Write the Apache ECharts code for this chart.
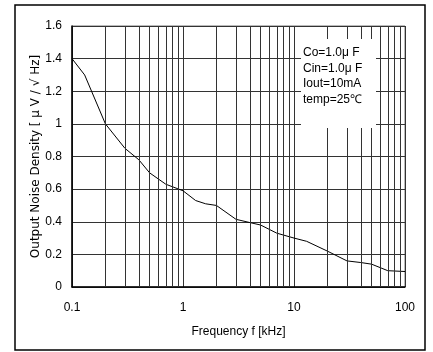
<!DOCTYPE html>
<html>
<head>
<meta charset="utf-8">
<script src="https://cdn.jsdelivr.net/npm/echarts@6/dist/echarts.min.js"></script>
<style>
  html, body { margin: 0; padding: 0; background: #fff; }
  #chart_box { width: 433px; height: 352px; }
</style>
</head>
<body>
<div id="chart_box"></div>
<script>
// 周波数 [kHz] と雑音密度 [μV/√Hz]
var freq = [0.1, 0.13, 0.2, 0.3, 0.4, 0.5, 0.7, 1, 1.3, 1.6, 2, 3, 4, 5, 7, 10, 13, 20, 30, 40, 50, 70, 100];
var noise = [1.40, 1.30, 1.00, 0.85, 0.78, 0.70, 0.63, 0.59, 0.53, 0.51, 0.50, 0.415, 0.395, 0.38, 0.33, 0.30, 0.28, 0.22, 0.16, 0.15, 0.14, 0.10, 0.095];
var minorFreq = [0.2, 0.3, 0.4, 0.5, 0.6, 0.7, 0.8, 0.9, 2, 3, 4, 5, 6, 7, 8, 9, 20, 30, 40, 50, 60, 70, 80, 90];
var noteLines = ["Co=1.0μ F", "Cin=1.0μ F", "Iout=10mA", "temp=25℃"];

var font = "'Liberation Sans', sans-serif";
var nameFont = "'DejaVu Sans', sans-serif";
var myChart = echarts.init(document.getElementById("chart_box"));

var option = {
  animation: false,
  textStyle: { fontFamily: font },
  grid: {
    left: 72, right: 28, top: 26, bottom: 65,
    show: true, borderColor: "#777", borderWidth: 1
  },
  xAxis: {
    type: "log",
    logBase: 10,
    min: 0.1,
    max: 100,
    name: "Frequency f [kHz]",
    nameLocation: "middle",
    nameGap: 39,
    nameTextStyle: { color: "#000", fontSize: 12, fontFamily: font },
    axisLine: { lineStyle: { color: "#000", width: 1.5 } },
    axisTick: { show: false },
    axisLabel: {
      color: "#000", fontSize: 12, margin: 15,
      formatter: function (v) { return String(v); }
    },
    splitLine: { show: true, lineStyle: { color: "#333", width: 1 } }
  },
  yAxis: {
    type: "value",
    min: 0,
    max: 1.6,
    interval: 0.2,
    name: "Output Noise Density [ μ V / √ Hz]",
    nameLocation: "middle",
    nameGap: 30,
    nameMoveOverlap: false,
    nameTextStyle: { color: "#000", fontSize: 12, fontFamily: nameFont },
    axisLine: { show: true, lineStyle: { color: "#000", width: 1.5 } },
    axisTick: { show: false },
    axisLabel: {
      color: "#000", fontSize: 12, margin: 10,
      formatter: function (v) { return String(Math.round(v * 10) / 10); }
    },
    splitLine: { show: true, lineStyle: { color: "#333", width: 1 } }
  },
  series: [
    {
      type: "line",
      data: freq.map(function (f, i) { return [f, noise[i]]; }),
      showSymbol: false,
      lineStyle: { color: "#000", width: 1 },
      z: 3,
      markLine: {
        silent: true,
        symbol: "none",
        label: { show: false },
        lineStyle: { color: "#333", width: 1, type: "solid" },
        data: minorFreq.map(function (f) { return { xAxis: f }; })
      }
    }
  ],
  graphic: [
    {
      type: "rect",
      z: 100,
      shape: { x: 301, y: 39, width: 75, height: 89 },
      style: { fill: "#fff" }
    },
    {
      type: "text",
      z: 101,
      left: 303,
      top: 45,
      style: {
        text: noteLines.join("\n"),
        fill: "#000",
        font: "12px " + font,
        lineHeight: 15.5
      }
    },
    {
      type: "rect",
      z: 100,
      shape: { x: 15, y: 5, width: 410, height: 345 },
      style: { fill: "none", stroke: "#000", lineWidth: 1.5 }
    }
  ]
};

myChart.setOption(option);
</script>
</body>
</html>
